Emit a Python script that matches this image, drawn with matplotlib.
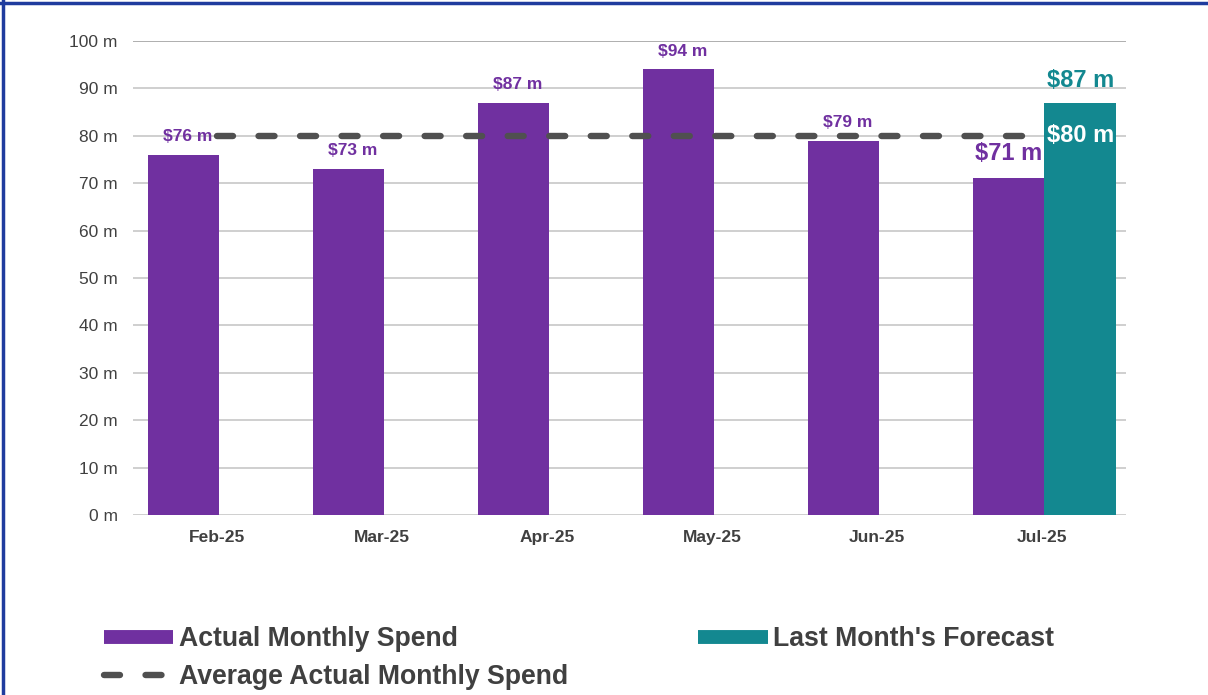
import matplotlib
matplotlib.use("Agg")
import matplotlib.pyplot as plt
from matplotlib.lines import Line2D

months = ["Feb-25", "Mar-25", "Apr-25", "May-25", "Jun-25", "Jul-25"]
actual = [76, 73, 87, 94, 79, 71]
forecast_month = "Jul-25"
forecast = 87
average = 80
yticks = [0, 10, 20, 30, 40, 50, 60, 70, 80, 90, 100]

PURPLE = "#7030A0"
TEAL = "#138890"
DASH = "#505050"
TEXT = "#404040"

plt.rcParams["font.family"] = ["Liberation Sans", "DejaVu Sans"]

fig = plt.figure(figsize=(12.08, 6.95), dpi=100)
ax = fig.add_axes([133 / 1208, 1 - 515 / 695, (1126 - 133) / 1208, (515 - 41) / 695])

w = 0.436
off = 0.015
xs = list(range(len(months)))
ax.bar([x - w / 2 + off for x in xs], actual, width=w, color=PURPLE, zorder=2)
fi = months.index(forecast_month)
ax.bar([fi + w / 2 + off], [forecast], width=w, color=TEAL, zorder=2)

ax.plot([0, fi], [average, average], color=DASH, lw=4.6, linestyle=(0, (2.5, 4.0)),
        dash_capstyle="round", zorder=3)

for i, v in enumerate(actual):
    if i == fi:
        ax.text(i - w / 2 + off, v + 2.8, f"${v} m", ha="center", va="bottom", color=PURPLE,
                fontsize=17, fontweight="bold", zorder=1)
    else:
        ax.text(i - w / 2 + 0.04, v + 2.3, f"${v} m", ha="center", va="bottom", color=PURPLE,
                fontsize=12.5, fontweight="bold", zorder=4)
ax.text(fi + w / 2 + off, forecast + 2.3, f"${forecast} m", ha="center", va="bottom", color=TEAL,
        fontsize=17, fontweight="bold", zorder=4)
ax.text(fi + w / 2 + off, average, f"${average} m", ha="center", va="center", color="white",
        fontsize=17, fontweight="bold", zorder=4)

ax.set_xlim(-0.509, 5.509)
ax.set_ylim(0, 100)
ax.set_yticks(yticks)
ax.set_yticklabels([f"{t} m" for t in yticks], color=TEXT, fontsize=12.5)
ax.set_xticks(xs)
ax.set_xticklabels(months, color=TEXT, fontsize=12.5, fontweight="bold")
ax.tick_params(axis="both", length=0)
ax.tick_params(axis="y", pad=11)
ax.tick_params(axis="x", pad=11)
for s in ax.spines.values():
    s.set_visible(False)
for t in yticks:
    ax.axhline(t, color="#a8a8a8" if t == 100 else "#cccccc", lw=1.3, zorder=0)

handles = [
    Line2D([], [], color=PURPLE, lw=10, solid_capstyle="butt"),
    Line2D([], [], color=DASH, lw=4.6, linestyle=(0, (2.5, 4.0)), dash_capstyle="round"),
    Line2D([], [], color=TEAL, lw=10, solid_capstyle="butt"),
]
labels = ["Actual Monthly Spend", "Average Actual Monthly Spend", "Last Month's Forecast"]
leg = fig.legend(handles, labels, ncol=2, loc="upper left",
                 bbox_to_anchor=(104 / 1208, 1 - 626 / 695), frameon=False,
                 prop={"size": 19.2, "weight": "bold"}, handlelength=2.6,
                 handletextpad=0.2, labelspacing=0.45, columnspacing=4.9,
                 borderaxespad=0, borderpad=0)
for t in leg.get_texts():
    t.set_color(TEXT)

fig.add_artist(Line2D([0, 1], [1 - 3 / 695, 1 - 3 / 695], color="#1f3c9e", lw=2.5,
                      transform=fig.transFigure))
fig.add_artist(Line2D([3 / 1208, 3 / 1208], [0, 1], color="#1f3c9e", lw=2.5,
                      transform=fig.transFigure))

fig.savefig("out.png", dpi=100)
